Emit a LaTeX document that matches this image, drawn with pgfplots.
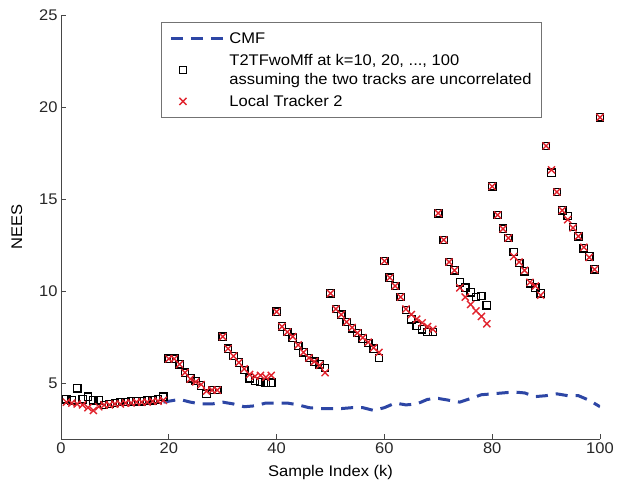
\documentclass[border=0pt]{standalone}
\usepackage{pgfplots}
\pgfplotsset{compat=1.18}
\usepackage{pgfplotstable}
\usepackage{fontspec}
\setmainfont{Liberation Sans}[FakeStretch=1.07]

\definecolor{cmfblue}{RGB}{45,70,165}
\definecolor{ltred}{RGB}{225,35,45}
\definecolor{axgray}{RGB}{70,70,70}

\pgfplotsset{
  cmf legend/.style={legend image code/.code={\draw[##1] (0bp,0bp) -- (52bp,0bp);}},
  mark legend/.style={legend image code/.code={\draw[mark repeat=2, mark phase=2, ##1]
      plot coordinates {(0bp,0bp) (12bp,0bp) (52bp,0bp)};}},
}

% k, T2TFwoMff (squares), local tracker 2 (crosses)
\pgfplotstableread{
k   sq     cr
1   4.15   4.0
2   4.1    3.95
3   4.75   3.9
4   4.15   3.85
5   4.3    3.7
6   4.1    3.55
7   4.1    3.75
8   3.85   3.85
9   3.9    3.85
10  3.95   3.9
11  4.0    3.9
12  4.0    3.95
13  4.05   3.95
14  4.05   4.0
15  4.05   4.0
16  4.1    4.0
17  4.1    4.05
18  4.15   4.05
19  4.3    4.1
20  6.35   6.35
21  6.35   6.35
22  6.05   6.05
23  5.6    5.6
24  5.3    5.25
25  5.15   5.1
26  4.9    4.95
27  4.45   4.6
28  4.65   4.65
29  4.65   4.65
30  7.55   7.55
31  6.9    6.9
32  6.5    6.5
33  6.15   6.15
34  5.75   5.8
35  5.3    5.5
36  5.15   5.4
37  5.1    5.45
38  5.05   5.35
39  5.05   5.45
40  8.9    8.9
41  8.1    8.1
42  7.8    7.8
43  7.5    7.55
44  7.05   7.1
45  6.7    6.7
46  6.4    6.4
47  6.2    6.2
48  6.05   6.0
49  5.85   5.6
50  9.9    9.9
51  9.05   9.05
52  8.75   8.75
53  8.35   8.35
54  8.0    8.05
55  7.75   7.75
56  7.45   7.5
57  7.2    7.25
58  6.9    6.95
59  6.4    6.7
60  11.65  11.65
61  10.75  10.75
62  10.3   10.3
63  9.7    9.7
64  9.0    9.05
65  8.5    8.75
66  8.15   8.5
67  7.95   8.3
68  7.8    8.1
69  7.8    7.95
70  14.25  14.25
71  12.8   12.8
72  11.6   11.6
73  11.15  11.15
74  10.5   10.2
75  10.2   9.7
76  9.95   9.3
77  9.7    8.95
78  9.75   8.65
79  9.25   8.25
80  15.7   15.7
81  14.15  14.15
82  13.4   13.4
83  12.9   12.9
84  12.15  11.9
85  11.55  11.6
86  11.1   11.15
87  10.45  10.5
88  10.2   10.3
89  9.9    9.8
90  17.9   17.9
91  16.45  16.6
92  15.4   15.4
93  14.4   14.4
94  14.1   13.9
95  13.5   13.45
96  13.0   13.0
97  12.35  12.4
98  11.9   11.85
99  11.2   11.2
100 19.45  19.45
}\neestable

\pgfplotstableread{
k   v
19  4.0
20  4.05
22  4.15
24  4.0
26  3.9
28  3.9
30  4.0
32  3.9
34  3.75
36  3.8
38  3.95
40  3.95
42  3.95
44  3.85
46  3.7
48  3.65
50  3.65
52  3.65
54  3.7
56  3.7
58  3.55
60  3.7
62  3.95
64  3.85
66  3.9
68  4.15
70  4.2
72  4.1
74  4.0
76  4.2
78  4.4
80  4.45
82  4.5
84  4.55
86  4.5
88  4.3
90  4.35
92  4.45
94  4.35
96  4.35
98  4.1
100 3.75
}\cmftable

\begin{document}
\begin{tikzpicture}[font=\fontsize{15.5}{19}\selectfont]
  \begin{axis}[
      name=ax,
      scale only axis,
      width=539bp, height=424bp,
      xmin=0, xmax=100,
      ymin=2, ymax=25,
      axis lines=left,
      axis line style={-, draw=axgray, line width=0.9pt},
      tick align=inside,
      major tick length=5bp,
      tick style={axgray, line width=0.9pt},
      xtick={0,20,...,100},
      ytick={5,10,...,25},
      ticklabel style={text=black!85},
      /pgf/number format/assume math mode=true,
      xlabel={Sample Index (k)},
      ylabel={NEES},
      xlabel style={yshift=-5bp},
      ylabel style={yshift=10bp},
      legend cell align=left,
      legend style={
          at={(0.1855,0.983)}, anchor=north west,
          draw=black!55, line width=0.9pt,
          cells={anchor=west},
          nodes={align=left, inner sep=2bp},
          row sep=5bp,
          column sep=3bp,
          inner xsep=8bp, inner ysep=8bp,
          font=\fontsize{15.5}{19.5}\selectfont
      },
      ]
    \addplot[cmfblue, line width=3bp, dash pattern=on 12bp off 8bp, cmf legend]
        table[x=k, y=v] {\cmftable};
    \addlegendentry{CMF}
    \addplot[only marks, mark=square, mark size=3.7bp,
        mark options={black, line width=1.3pt}, mark legend]
        table[x=k, y=sq] {\neestable};
    \addlegendentry{T2TFwoMff at k=10, 20, ..., 100\\assuming the two tracks are uncorrelated}
    \addplot[only marks, mark=x, mark size=5bp,
        mark options={ltred, line width=1.4pt}, mark legend]
        table[x=k, y=cr] {\neestable};
    \addlegendentry{Local Tracker 2}
  \end{axis}
  \path ([xshift=-61bp,yshift=-46bp]ax.south west)
      rectangle ([xshift=22bp,yshift=15bp]ax.north east);
\end{tikzpicture}
\end{document}
